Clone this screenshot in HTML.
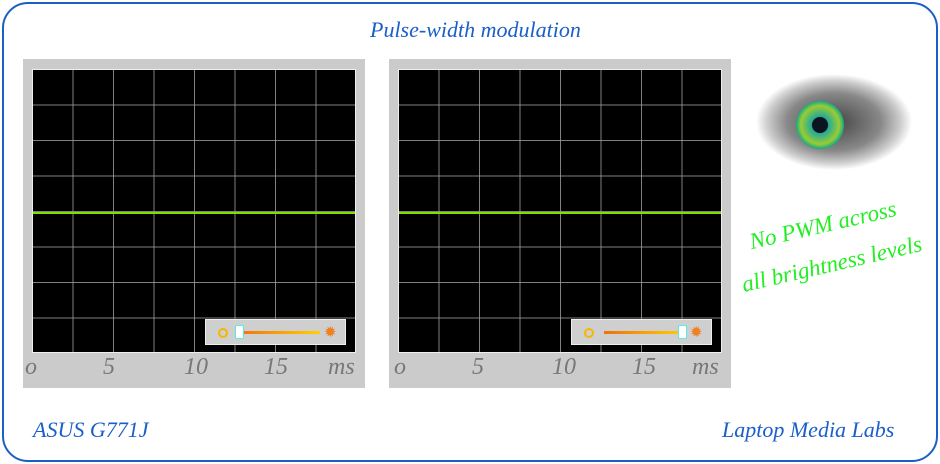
<!DOCTYPE html>
<html><head><style>
body{margin:0;width:940px;height:464px;background:#fff;position:relative;overflow:hidden;font-family:"Liberation Serif",serif}
.frame{position:absolute;left:2px;top:2px;width:932px;height:456px;border:2px solid #1a5fc8;border-radius:26px}
.t{position:absolute;color:#1a5fc8;font-style:italic;font-size:22px}
.panel{position:absolute;top:59px;width:342px;height:329px;background:#cbcbcb}
.plot{position:absolute;left:9px;top:10px;width:324px;height:284px;background:#000;border:1px solid #eee;box-sizing:border-box;
background-image:linear-gradient(to right,rgba(160,160,160,.8) 1px,transparent 1px),linear-gradient(to bottom,rgba(160,160,160,.8) 1px,transparent 1px);
background-size:40.5px 35.5px;background-position:-1px -1px}
.green{position:absolute;left:0;right:0;top:142px;height:2px;background:#7fe000}
.lab{position:absolute;top:295px;font-size:24px;color:#777;font-style:italic}
.sl{position:absolute;top:260px;width:141px;height:26px;background:#cfcfcf;border:1px solid #eee;box-sizing:border-box}
.bar{position:absolute;left:32px;top:11px;width:82px;height:3px;background:linear-gradient(to right,#f07010,#ffd000)}
.dot{position:absolute;left:12px;top:8px;width:6px;height:6px;border:2px solid #f5b800;border-radius:50%}
.sun{position:absolute;left:118px;top:3px;font-size:15px;color:#f08020}
.knob{position:absolute;top:5px;width:7px;height:12px;background:#fff;border:1px solid #5ed;border-radius:2px}
</style></head><body>
<div class="frame"></div>
<div class="t" style="left:370px;top:17px;">Pulse-width modulation</div>
<div class="panel" style="left:23px">
 <div class="plot"><div class="green"></div></div>
 <div class="sl" style="left:182px"><div class="dot"></div><div class="bar"></div><div class="knob" style="left:29px"></div><div class="sun">✹</div></div>
 <div class="lab" style="left:2px">o</div><div class="lab" style="left:80px">5</div><div class="lab" style="left:161px">10</div><div class="lab" style="left:241px">15</div><div class="lab" style="left:305px">ms</div>
</div>
<div class="panel" style="left:389px">
 <div class="plot"><div class="green"></div></div>
 <div class="sl" style="left:182px"><div class="dot"></div><div class="bar"></div><div class="knob" style="left:106px"></div><div class="sun">✹</div></div>
 <div class="lab" style="left:5px">o</div><div class="lab" style="left:83px">5</div><div class="lab" style="left:163px">10</div><div class="lab" style="left:243px">15</div><div class="lab" style="left:303px">ms</div>
</div>
<svg style="position:absolute;left:752px;top:70px" width="160" height="110">
 <defs><radialGradient id="g" cx="50%" cy="50%" r="50%"><stop offset="0" stop-color="#444"/><stop offset=".6" stop-color="#888"/><stop offset=".85" stop-color="#ccc"/><stop offset="1" stop-color="#fff"/></radialGradient>
 <radialGradient id="i"><stop offset=".3" stop-color="#0a2a3a"/><stop offset=".35" stop-color="#2a9"/><stop offset=".8" stop-color="#9c3"/><stop offset="1" stop-color="#1a8"/></radialGradient></defs>
 <ellipse cx="82" cy="52" rx="78" ry="48" fill="url(#g)"/>
 <circle cx="68" cy="55" r="24" fill="url(#i)"/>
 <circle cx="68" cy="55" r="8" fill="#0a1520"/>
</svg>
<div style="position:absolute;left:720px;top:205px;color:#22ee22;font-style:italic;font-size:23px;transform:rotate(-13deg);text-align:center;line-height:40px;width:215px;white-space:nowrap">No PWM across<br>all brightness levels</div>
<div class="t" style="left:33px;top:417px;">ASUS G771J</div>
<div class="t" style="left:722px;top:417px;">Laptop Media Labs</div>
</body></html>
